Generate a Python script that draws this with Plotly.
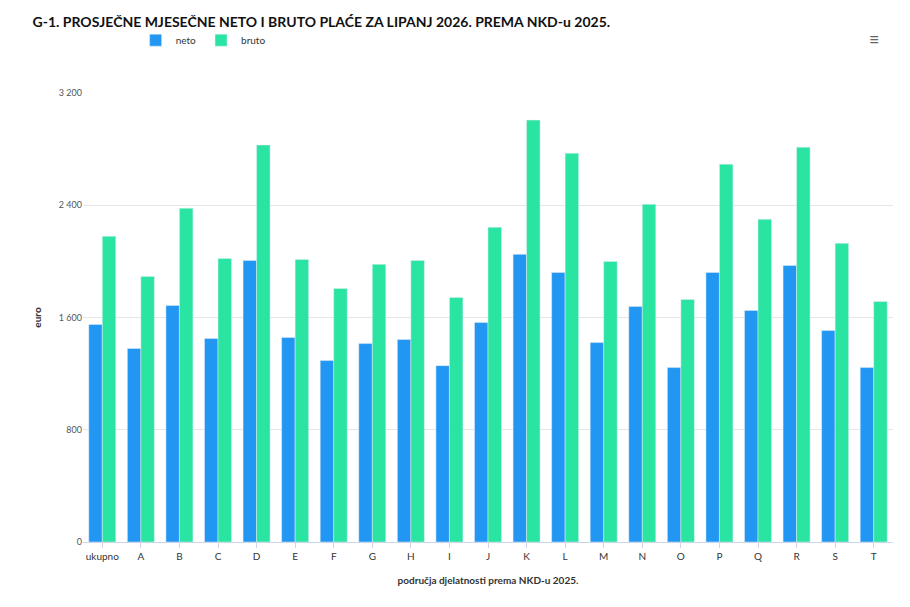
import plotly.graph_objects as go

categories = ["ukupno", "A", "B", "C", "D", "E", "F", "G", "H", "I", "J",
              "K", "L", "M", "N", "O", "P", "Q", "R", "S", "T"]
neto = [1550, 1379, 1686, 1450, 2007, 1457, 1293, 1414, 1443, 1257, 1564,
        2050, 1921, 1421, 1679, 1243, 1921, 1650, 1971, 1507, 1243]
bruto = [2179, 1893, 2379, 2021, 2829, 2014, 1807, 1979, 2007, 1743, 2243,
         3007, 2771, 2000, 2407, 1729, 2693, 2300, 2814, 2129, 1714]

fig = go.Figure()
fig.add_trace(go.Bar(x=categories, y=neto, name="neto", marker_color="#2196F3"))
fig.add_trace(go.Bar(x=categories, y=bruto, name="bruto", marker_color="#2AE4A1"))

fig.update_layout(
    width=910, height=607,
    font=dict(family="Lato, Open Sans, sans-serif", size=10, color="#333"),
    title=dict(text="<b>G-1. PROSJEČNE MJESEČNE NETO I BRUTO PLAĆE ZA LIPANJ 2026. PREMA NKD-u 2025.</b>",
               x=0.027, y=0.985, xanchor="left", font=dict(size=14, color="#111")),
    legend=dict(orientation="h", x=0.065, y=1.15, xanchor="left", font=dict(size=10),
                itemwidth=30, tracegroupgap=0),
    plot_bgcolor="white", paper_bgcolor="white",
    margin=dict(l=75, r=25, t=85, b=73),
    bargap=0.3, bargroupgap=0,
    separators=". ",
)
fig.update_yaxes(range=[0, 3200], dtick=800, tickformat=",d", gridcolor="#e6e6e6",
                 title=dict(text="<b>euro</b>", font=dict(size=10)), zeroline=False,
                 tickfont=dict(size=9, color="#555"))
fig.update_xaxes(showline=True, linecolor="#ccd6eb", ticks="outside", tickcolor="#ccd6eb",
                 title=dict(text="<b>područja djelatnosti prema NKD-u 2025.</b>", font=dict(size=10)),
                 tickfont=dict(size=10, color="#333"))
fig.add_annotation(text="≡", x=0.985, y=1.15, xref="paper", yref="paper",
                   showarrow=False, font=dict(size=18, color="#666"))

fig.write_html("out.html")
